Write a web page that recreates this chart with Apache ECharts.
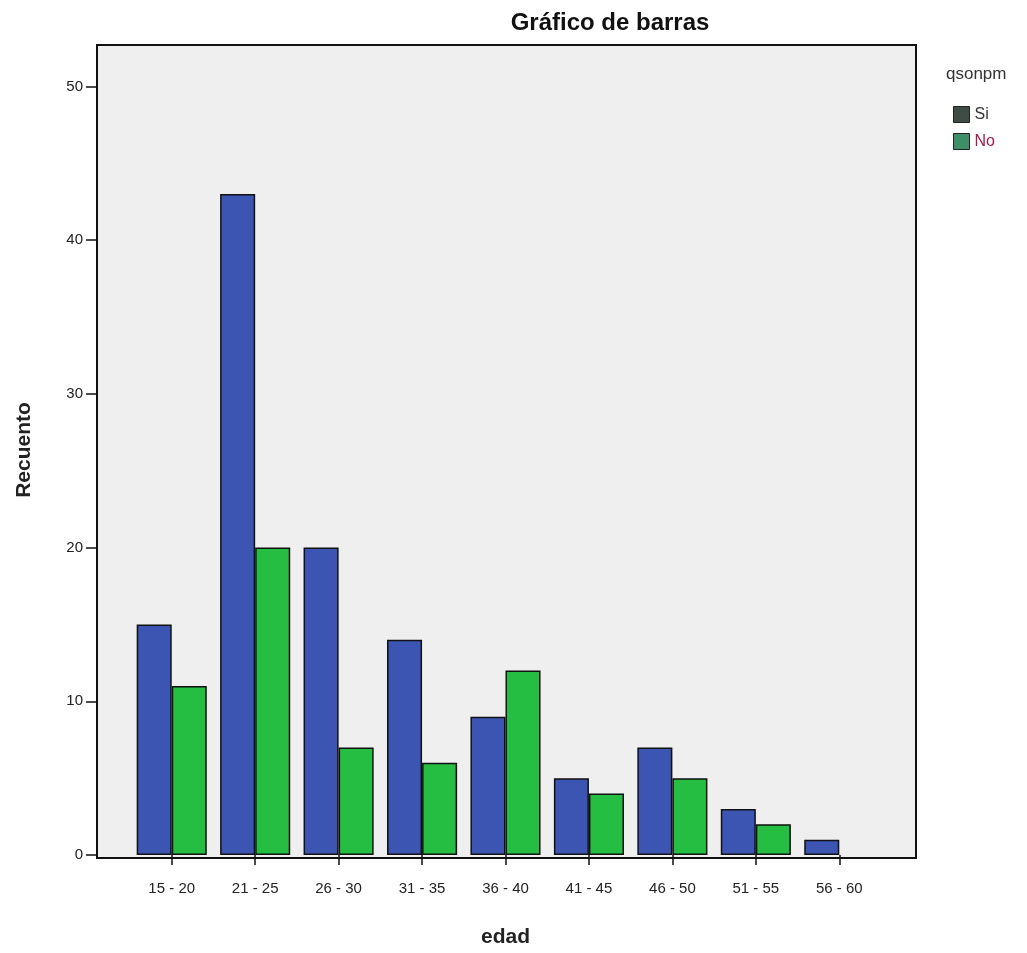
<!DOCTYPE html>
<html>
<head>
<meta charset="utf-8">
<script src="https://cdn.jsdelivr.net/npm/echarts@6/dist/echarts.min.js"></script>
<style>
  html, body { margin: 0; padding: 0; background: #fff; }
  #chart { width: 1027px; height: 953px; }
</style>
</head>
<body>
<div id="chart"></div>
<script>
// age groups and counts per answer
const categories = ['15 - 20', '21 - 25', '26 - 30', '31 - 35', '36 - 40', '41 - 45', '46 - 50', '51 - 55', '56 - 60'];
const siValues = [15, 43, 20, 14, 9, 5, 7, 3, 1];
const noValues = [11, 20, 7, 6, 12, 4, 5, 2, 0];
const yTicks = [0, 10, 20, 30, 40, 50];

const font = 'Liberation Sans, Arial, sans-serif';

// empty groups draw no bar at all
const noBar = v => (v === 0 ? null : v);

let myChart = echarts.init(document.getElementById('chart'));

let option = {
    animation: false,
    backgroundColor: '#ffffff',
    title: {
        text: 'Gráfico de barras',
        left: 605,
        top: 6,
        textAlign: 'center',
        textStyle: { fontFamily: font, fontSize: 24, fontWeight: 'bold', color: '#111' }
    },
    legend: {
        orient: 'vertical',
        left: 948,
        top: 101,
        itemWidth: 16,
        itemHeight: 16,
        itemGap: 10,
        icon: 'rect',
        textStyle: { fontFamily: font, fontSize: 16, color: '#222' },
        data: [
            { name: 'Si', itemStyle: { color: '#3d4d44', borderColor: '#222', borderWidth: 1 }, textStyle: { color: '#333' } },
            { name: 'No', itemStyle: { color: '#3f8f66', borderColor: '#222', borderWidth: 1 }, textStyle: { color: '#a0204a' } }
        ]
    },
    graphic: [{
        type: 'text',
        left: 946,
        top: 66,
        style: { text: 'qsonpm', font: '17px ' + font, fill: '#333' }
    }],
    grid: [
        // frame
        { left: 97, right: 111, top: 45, bottom: 95, show: true, backgroundColor: '#efefef', borderColor: '#111', borderWidth: 2 },
        // bars
        { left: 130, right: 146, top: 45, bottom: 95 }
    ],
    xAxis: [
        { gridIndex: 0, type: 'value', show: false, min: 0, max: 1 },
        {
            gridIndex: 1,
            type: 'category',
            data: categories,
            name: 'edad',
            nameLocation: 'middle',
            nameGap: 72,
            nameTextStyle: { fontFamily: font, fontSize: 21, fontWeight: 'bold', color: '#222' },
            axisLine: { show: false },
            axisTick: { show: true, alignWithLabel: true, length: 10, lineStyle: { color: '#111', width: 1.5 } },
            axisLabel: { fontFamily: font, fontSize: 15, color: '#222', margin: 26 }
        }
    ],
    yAxis: [
        { gridIndex: 0, type: 'value', show: false, min: 0, max: 1 },
        {
            gridIndex: 1,
            type: 'value',
            min: 0,
            max: 52.7,
            interval: 10,
            offset: 33,
            name: 'Recuento',
            nameLocation: 'middle',
            nameGap: 62,
            nameTextStyle: { fontFamily: font, fontSize: 21, fontWeight: 'bold', color: '#222' },
            axisLine: { show: true, lineStyle: { color: '#111', width: 2 } },
            axisTick: { show: true, length: 11, lineStyle: { color: '#111', width: 1.5 } },
            axisLabel: {
                fontFamily: font, fontSize: 15, color: '#222', margin: 14,
                showMaxLabel: false,
                formatter: v => yTicks.includes(v) ? String(v) : ''
            },
            splitLine: { show: false }
        }
    ],
    series: [
        {
            name: 'Si',
            type: 'bar',
            xAxisIndex: 1,
            yAxisIndex: 1,
            data: siValues.map(noBar),
            barGap: '0%',
            barCategoryGap: '16%',
            itemStyle: { color: '#3c55b3', borderColor: '#111', borderWidth: 1.5 }
        },
        {
            name: 'No',
            type: 'bar',
            xAxisIndex: 1,
            yAxisIndex: 1,
            data: noValues.map(noBar),
            itemStyle: { color: '#25bd42', borderColor: '#111', borderWidth: 1.5 }
        }
    ]
};

myChart.setOption(option);
</script>
</body>
</html>
